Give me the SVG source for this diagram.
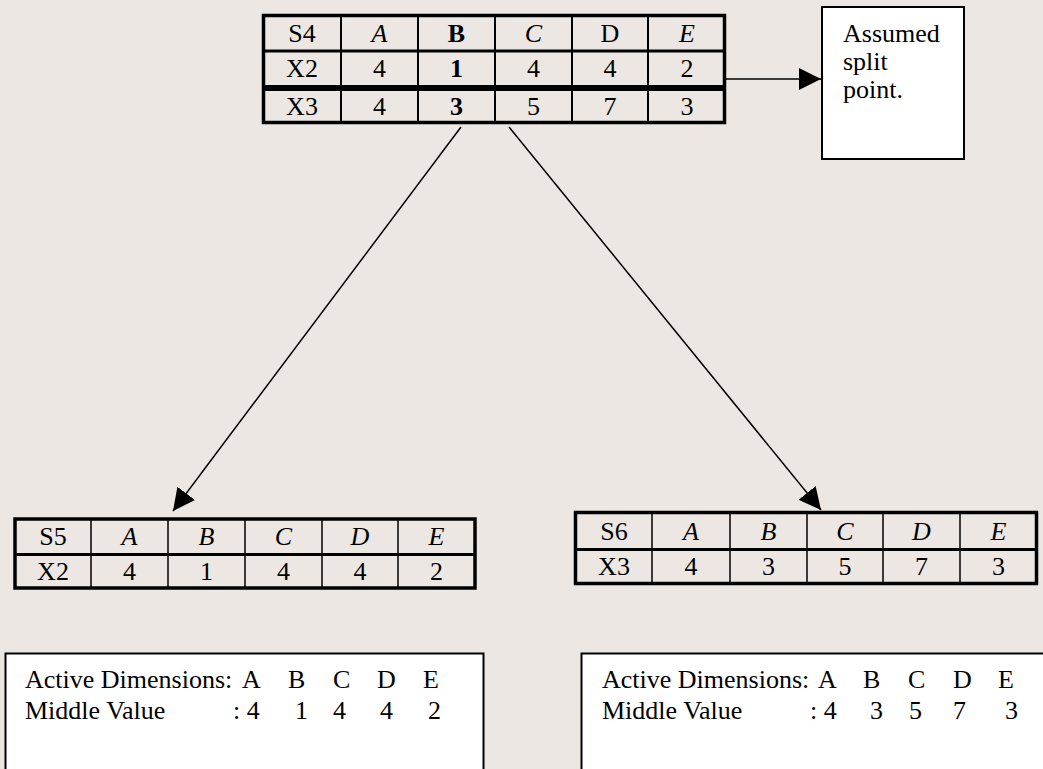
<svg xmlns="http://www.w3.org/2000/svg" width="1043" height="769" viewBox="0 0 1043 769">
  <defs>
    <marker id="head" markerUnits="userSpaceOnUse" markerWidth="22" markerHeight="22" refX="22" refY="11" orient="auto">
      <path d="M0,0 L22,11 L0,22 z" fill="#000"/>
    </marker>
    <style>
      text { font-family: "Liberation Serif", "Times New Roman", serif; font-size: 26px; fill: #000; }
      .c { text-anchor: middle; }
      .i { font-style: italic; }
      .b { font-weight: bold; }
      .frame { fill: none; stroke: #000; stroke-width: 3.5; }
      .rule { stroke: #000; stroke-width: 3; }
      .band { stroke: #000; stroke-width: 6; }
      .sep { stroke: #000; stroke-width: 2; }
      .thin { stroke: #000; stroke-width: 1.5; }
      .note { fill: #fff; stroke: #000; stroke-width: 2; }
      .link { fill: none; stroke: #000; stroke-width: 1.5; marker-end: url(#head); }
    </style>
  </defs>

  <rect width="1043" height="769" fill="#ece7e3"/>

  <!-- connectors -->
  <g id="connectors">
    <line class="link" x1="726" y1="79" x2="821" y2="79"/>
    <line class="link" x1="461" y1="127" x2="173" y2="511"/>
    <line class="link" x1="509" y1="127" x2="821" y2="510"/>
  </g>

  <!-- split table S4 -->
  <g id="s4">
    <line class="rule" x1="263" y1="51" x2="725" y2="51"/>
    <line class="band" x1="263" y1="88" x2="725" y2="88"/>
    <line class="sep" x1="341" y1="15" x2="341" y2="122"/>
    <line class="sep" x1="418" y1="15" x2="418" y2="122"/>
    <line class="sep" x1="495" y1="15" x2="495" y2="122"/>
    <line class="sep" x1="572" y1="15" x2="572" y2="122"/>
    <line class="sep" x1="648" y1="15" x2="648" y2="122"/>
    <rect class="frame" x="263.5" y="15.5" width="461" height="107"/>
    <text class="c" x="302" y="42">S4</text>
    <text class="c i" x="379.5" y="42">A</text>
    <text class="c b" x="456.5" y="42">B</text>
    <text class="c i" x="533.5" y="42">C</text>
    <text class="c" x="610" y="42">D</text>
    <text class="c i" x="687" y="42">E</text>
    <text class="c" x="302" y="77">X2</text>
    <text class="c" x="379.5" y="77">4</text>
    <text class="c b" x="456.5" y="77">1</text>
    <text class="c" x="533.5" y="77">4</text>
    <text class="c" x="610" y="77">4</text>
    <text class="c" x="687" y="77">2</text>
    <text class="c" x="302" y="115">X3</text>
    <text class="c" x="379.5" y="115">4</text>
    <text class="c b" x="456.5" y="115">3</text>
    <text class="c" x="533.5" y="115">5</text>
    <text class="c" x="610" y="115">7</text>
    <text class="c" x="687" y="115">3</text>
  </g>

  <!-- note box -->
  <g id="split-note">
    <rect class="note" x="822" y="7" width="142" height="152"/>
    <text x="843" y="42">Assumed</text>
    <text x="843" y="70">split</text>
    <text x="843" y="98">point.</text>
  </g>

  <!-- child table S5 -->
  <g id="s5">
    <line class="rule" x1="15" y1="554.5" x2="475" y2="554.5"/>
    <line class="thin" x1="91" y1="519" x2="91" y2="588"/>
    <line class="thin" x1="168" y1="519" x2="168" y2="588"/>
    <line class="thin" x1="245" y1="519" x2="245" y2="588"/>
    <line class="thin" x1="322" y1="519" x2="322" y2="588"/>
    <line class="thin" x1="398" y1="519" x2="398" y2="588"/>
    <rect class="frame" x="15" y="519" width="460" height="69"/>
    <text class="c" x="53" y="545">S5</text>
    <text class="c i" x="129.5" y="545">A</text>
    <text class="c i" x="206.5" y="545">B</text>
    <text class="c i" x="283.5" y="545">C</text>
    <text class="c i" x="360" y="545">D</text>
    <text class="c i" x="436.5" y="545">E</text>
    <text class="c" x="53" y="580">X2</text>
    <text class="c" x="129.5" y="580">4</text>
    <text class="c" x="206.5" y="580">1</text>
    <text class="c" x="283.5" y="580">4</text>
    <text class="c" x="360" y="580">4</text>
    <text class="c" x="436.5" y="580">2</text>
  </g>

  <!-- child table S6 -->
  <g id="s6">
    <line class="rule" x1="576" y1="549.5" x2="1036" y2="549.5"/>
    <line class="thin" x1="652" y1="513" x2="652" y2="584"/>
    <line class="thin" x1="730" y1="513" x2="730" y2="584"/>
    <line class="thin" x1="807" y1="513" x2="807" y2="584"/>
    <line class="thin" x1="883" y1="513" x2="883" y2="584"/>
    <line class="thin" x1="960" y1="513" x2="960" y2="584"/>
    <rect class="frame" x="575.5" y="512.5" width="461" height="71"/>
    <text class="c" x="614" y="540">S6</text>
    <text class="c i" x="691" y="540">A</text>
    <text class="c i" x="768.5" y="540">B</text>
    <text class="c i" x="845" y="540">C</text>
    <text class="c i" x="921.5" y="540">D</text>
    <text class="c i" x="998.5" y="540">E</text>
    <text class="c" x="614" y="575">X3</text>
    <text class="c" x="691" y="575">4</text>
    <text class="c" x="768.5" y="575">3</text>
    <text class="c" x="845" y="575">5</text>
    <text class="c" x="921.5" y="575">7</text>
    <text class="c" x="998.5" y="575">3</text>
  </g>

  <!-- middle values for S5 -->
  <g id="s5-values">
    <rect class="note" x="5.5" y="653.5" width="478" height="130"/>
    <text x="25" y="688">Active Dimensions:</text>
    <text x="242" y="688">A</text>
    <text x="288" y="688">B</text>
    <text x="333" y="688">C</text>
    <text x="377" y="688">D</text>
    <text x="423" y="688">E</text>
    <text x="25" y="719">Middle Value</text>
    <text x="233" y="719">: 4</text>
    <text x="295" y="719">1</text>
    <text x="333" y="719">4</text>
    <text x="380" y="719">4</text>
    <text x="428" y="719">2</text>
  </g>

  <!-- middle values for S6 -->
  <g id="s6-values">
    <rect class="note" x="581.5" y="653.5" width="500" height="130"/>
    <text x="602" y="688">Active Dimensions:</text>
    <text x="818" y="688">A</text>
    <text x="863" y="688">B</text>
    <text x="908" y="688">C</text>
    <text x="953" y="688">D</text>
    <text x="998" y="688">E</text>
    <text x="602" y="719">Middle Value</text>
    <text x="810" y="719">: 4</text>
    <text x="870" y="719">3</text>
    <text x="909" y="719">5</text>
    <text x="953" y="719">7</text>
    <text x="1005" y="719">3</text>
  </g>
</svg>
